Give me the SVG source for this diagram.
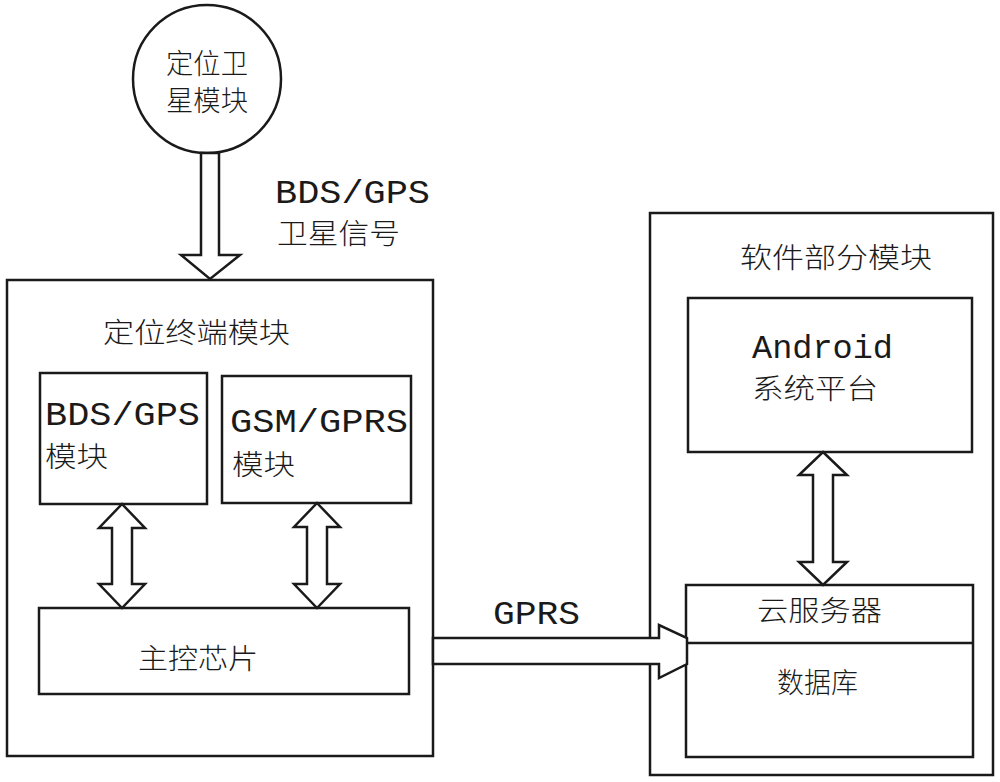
<svg xmlns="http://www.w3.org/2000/svg" width="1000" height="782" viewBox="0 0 1000 782">
<style>
.box{fill:#fff;stroke:#1a1a1a;stroke-width:2.5}
.arr{fill:#fff;stroke:#1a1a1a;stroke-width:2.5;stroke-linejoin:miter}
.cn{font-family:"Noto Sans CJK SC","Noto Sans CJK JP",sans-serif;font-size:28px;fill:#1a1a1a;font-weight:300}
.mono{font-family:"Liberation Mono","DejaVu Sans Mono",monospace;font-size:33px;fill:#1a1a1a}
</style>
<rect width="1000" height="782" fill="#fff"/>
<g id="satellite">
<circle cx="207" cy="79" r="74" class="box"/>
<text class="cn" x="166" y="74" font-size="25" textLength="82" lengthAdjust="spacingAndGlyphs">定位卫</text>
<text class="cn" x="166" y="111" font-size="25" textLength="82" lengthAdjust="spacingAndGlyphs">星模块</text>
</g>
<g id="terminal">
<rect x="7" y="280" width="426" height="476" class="box"/>
<text class="cn" x="103" y="343" textLength="187" lengthAdjust="spacingAndGlyphs">定位终端模块</text>
</g>
<g id="bdsgps">
<rect x="40" y="373" width="167" height="131" class="box"/>
<text class="mono" x="45" y="425" textLength="155" lengthAdjust="spacingAndGlyphs">BDS/GPS</text>
<text class="cn" x="45" y="467" textLength="63" lengthAdjust="spacingAndGlyphs">模块</text>
</g>
<g id="gsmgprs">
<rect x="222" y="376" width="189" height="127" class="box"/>
<text class="mono" x="230" y="432" textLength="178" lengthAdjust="spacingAndGlyphs">GSM/GPRS</text>
<text class="cn" x="232" y="475" textLength="63" lengthAdjust="spacingAndGlyphs">模块</text>
</g>
<g id="mcu">
<rect x="39" y="608" width="370" height="86" class="box"/>
<text class="cn" x="138" y="669" textLength="120" lengthAdjust="spacingAndGlyphs">主控芯片</text>
</g>
<g id="software">
<rect x="650" y="213" width="343" height="562" class="box"/>
<text class="cn" x="740" y="268" textLength="192" lengthAdjust="spacingAndGlyphs">软件部分模块</text>
</g>
<g id="android">
<rect x="688" y="298" width="284" height="154" class="box"/>
<text class="mono" x="752" y="358" textLength="141" lengthAdjust="spacingAndGlyphs">Android</text>
<text class="cn" x="752" y="399" textLength="126" lengthAdjust="spacingAndGlyphs">系统平台</text>
</g>
<g id="cloud">
<rect x="686" y="585" width="287" height="172" class="box"/>
<line x1="686" y1="643" x2="973" y2="643" stroke="#1a1a1a" stroke-width="2.5"/>
<text class="cn" x="757" y="621" textLength="125" lengthAdjust="spacingAndGlyphs">云服务器</text>
<text class="cn" x="777" y="693" textLength="81" lengthAdjust="spacingAndGlyphs">数据库</text>
</g>
<g id="connectors">
<polygon class="arr" points="201,153 201,255 181,255 210,279 240,255 219,255 219,153"/>
<text class="mono" x="275" y="203" textLength="155" lengthAdjust="spacingAndGlyphs">BDS/GPS</text>
<text class="cn" x="277" y="244" textLength="123" lengthAdjust="spacingAndGlyphs">卫星信号</text>
<polygon class="arr" points="122,504 145,528 132,528 132,584 145,584 122,608 99,584 112,584 112,528 99,528"/>
<polygon class="arr" points="317,503 340,527 327,527 327,584 340,584 317,608 294,584 307,584 307,527 294,527"/>
<polygon class="arr" points="823,452 847,475 833,475 833,562 847,562 823,585 799,562 813,562 813,475 799,475"/>
<polygon class="arr" points="433,638 659,638 659,625 687,638 687,664 659,678 659,664 433,664"/>
<text class="mono" x="493" y="624" textLength="87" lengthAdjust="spacingAndGlyphs">GPRS</text>
</g>
</svg>
